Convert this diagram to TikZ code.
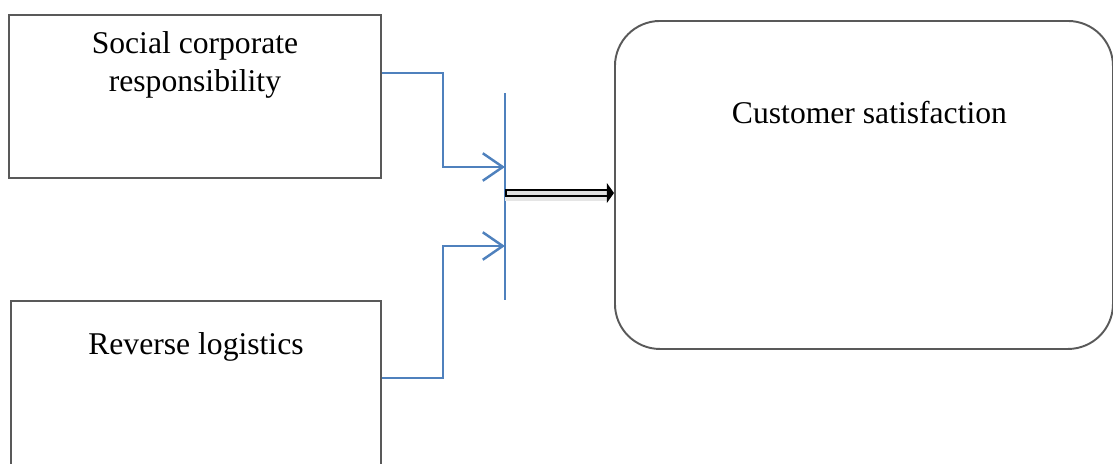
\documentclass[tikz,border=0pt]{standalone}
\usepackage{fontspec}
\setmainfont{Liberation Serif}
\usetikzlibrary{arrows.meta, positioning}
\definecolor{linkblue}{HTML}{4F81BD}
\definecolor{boxgray}{HTML}{595959}
\tikzset{
    block/.style = {rectangle, draw=boxgray, line width=1.1pt, minimum width=7.44cm, anchor=north west},
    goal/.style = {rectangle, rounded corners=0.9cm, draw=boxgray, line width=1.1pt, minimum width=9.96cm, minimum height=6.56cm, anchor=north west},
    boxtext/.style = {font=\fontsize{18}{21.5}\selectfont, align=center, inner sep=0pt},
    link/.style = {draw=linkblue, line width=1.4pt},
    arrow/.style = {link, -{Straight Barb[length=0.4cm, width=0.55cm]}},
    feed/.style = {line width=1.1pt, double=gray!25, double distance=2pt, {Bar[width=4.2pt]}-{Triangle[length=4pt, width=11pt]}},
    feedshadow/.style = {draw=black!10, line width=5pt, transform canvas={yshift=-2pt}}
}
\begin{document}
\begin{tikzpicture}
\useasboundingbox (0,0) rectangle (22.26,-9.26);

% Boxes
\node (csr) [block, minimum height=3.26cm] at (0.16,-0.28) {};
\node (rl) [block, minimum width=7.4cm, minimum height=4cm] at (0.2,-6.0) {};
\node (cs) [goal] at (12.28,-0.4) {};

\node (csrtext) [boxtext, below=0.34cm of csr.north] {Social corporate\\responsibility};
\node (rltext) [boxtext, below=0.64cm of rl.north] {Reverse logistics};
\node (cstext) [boxtext, below=1.62cm of cs.north, xshift=0.11cm] {Customer satisfaction};

% Junction bar
\node (csrout) [coordinate, below=1.18cm of csr.north east] {};
\node (rlout) [coordinate, below=1.56cm of rl.north east] {};
\node (jtop) [coordinate, below right=0.4cm and 2.46cm of csrout] {};
\node (jbot) [coordinate, below=4.14cm of jtop] {};
\node (jin1) [coordinate, below=1.48cm of jtop] {};
\node (jin2) [coordinate, below=3.06cm of jtop] {};
\node (jmid) [coordinate, below=2cm of jtop] {};

\draw [link] (jtop) -- (jbot);
\draw [arrow] (csrout) -- ++(1.22,0) |- (jin1);
\draw [arrow] (rlout) -- ++(1.22,0) |- (jin2);
\draw [feedshadow] (jmid) -- ([xshift=-3pt]jmid -| cs.west);
\draw [feed] (jmid) -- (jmid -| cs.west);

\end{tikzpicture}
\end{document}
